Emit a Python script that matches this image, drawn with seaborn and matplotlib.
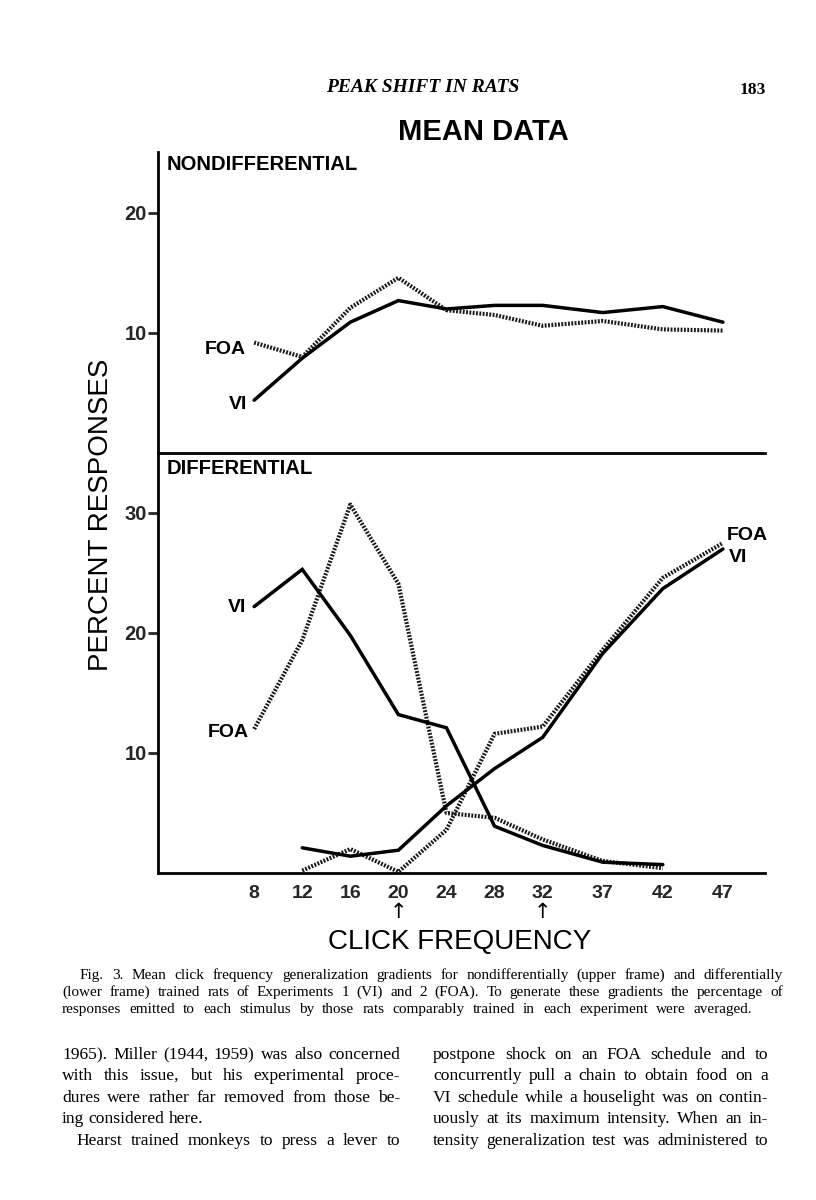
import matplotlib
matplotlib.use("Agg")
import matplotlib.pyplot as plt
import seaborn as sns
import pandas as pd
from matplotlib.transforms import blended_transform_factory

# ---------------- data ----------------
click_freq = [8, 12, 16, 20, 24, 28, 32, 37, 42, 47]
tick_labels = ["8", "12", "16", "20", "24", "28", "32", "37", "42", "47"]

# Nondifferential (upper frame)
nondiff_vi = [4.4, 7.9, 10.9, 12.7, 12.0, 12.3, 12.3, 11.7, 12.2, 10.9]
nondiff_foa = [9.2, 8.0, 12.1, 14.6, 11.9, 11.5, 10.6, 11.0, 10.3, 10.2]

# Differential (lower frame)
freq_low = [8, 12, 16, 20, 24, 28, 32, 37, 42]
freq_high = [12, 16, 20, 24, 28, 32, 37, 42, 47]
diff_vi_low = [22.2, 25.3, 19.8, 13.2, 12.1, 3.9, 2.3, 0.9, 0.7]
diff_vi_high = [2.1, 1.4, 1.9, 5.6, 8.7, 11.3, 18.3, 23.7, 27.0]
diff_foa_low = [12.0, 19.4, 30.7, 24.1, 5.0, 4.6, 2.8, 1.0, 0.4]
diff_foa_high = [0.2, 2.0, 0.1, 3.6, 11.6, 12.2, 18.6, 24.6, 27.5]

top_yticks = [10, 20]
bot_yticks = [10, 20, 30]

header = "PEAK SHIFT IN RATS"
page_no = "183"
title = "MEAN DATA"
caption_lines = [
    "Fig. 3. Mean click frequency generalization gradients for nondifferentially (upper frame) and differentially",
    "(lower frame) trained rats of Experiments 1 (VI) and 2 (FOA). To generate these gradients the percentage of",
    "responses emitted to each stimulus by those rats comparably trained in each experiment were averaged.",
]
left_col = [
    "1965). Miller (1944, 1959) was also concerned",
    "with this issue, but his experimental proce-",
    "dures were rather far removed from those be-",
    "ing considered here.",
    "Hearst trained monkeys to press a lever to",
]
right_col = [
    "postpone shock on an FOA schedule and to",
    "concurrently pull a chain to obtain food on a",
    "VI schedule while a houselight was on contin-",
    "uously at its maximum intensity. When an in-",
    "tensity generalization test was administered to",
]

# ---------------- style ----------------
sns.set_style("white")
plt.rcParams["font.family"] = ["Liberation Sans", "DejaVu Sans"]

W, H = 816, 1200
fig = plt.figure(figsize=(W / 100, H / 100), dpi=100)
fig.patch.set_facecolor("white")


def fx(px):
    return px / W


def fy(py):
    return 1 - py / H


AX_L, AX_R = 158, 765
ax_top = fig.add_axes([fx(AX_L), fy(453), fx(AX_R) - fx(AX_L), fy(152) - fy(453)])
ax_bot = fig.add_axes([fx(AX_L), fy(873), fx(AX_R) - fx(AX_L), fy(453) - fy(873)])

SOLID = dict(color="black", linewidth=2.5, solid_joinstyle="miter")
DOTTED = dict(color="#1a1a1a", linewidth=3.0, linestyle=(0, (0.45, 0.35)))


def draw(ax, xs, ys, style):
    df = pd.DataFrame({"freq": xs, "pct": ys})
    sns.lineplot(data=df, x="freq", y="pct", ax=ax, estimator=None, sort=False,
                 legend=False, clip_on=False, **style)


draw(ax_top, click_freq, nondiff_foa, DOTTED)
draw(ax_top, click_freq, nondiff_vi, SOLID)

draw(ax_bot, freq_low, diff_foa_low, DOTTED)
draw(ax_bot, freq_high, diff_foa_high, DOTTED)
draw(ax_bot, freq_low, diff_vi_low, SOLID)
draw(ax_bot, freq_high, diff_vi_high, SOLID)

for ax, ylim, yt in [(ax_top, 25.08, top_yticks), (ax_bot, 35.0, bot_yticks)]:
    ax.set_xlim(0, 50.5)
    ax.set_ylim(0, ylim)
    ax.set_facecolor("none")
    for s in ["top", "right"]:
        ax.spines[s].set_visible(False)
    for s in ["left", "bottom"]:
        ax.spines[s].set_linewidth(2.0)
        ax.spines[s].set_color("black")
    ax.set_yticks(yt)
    ax.set_yticklabels([str(v) for v in yt])
    ax.tick_params(axis="y", direction="out", length=7, width=2, pad=1,
                   labelsize=14.5, left=True)
    for lab in ax.get_yticklabels():
        lab.set_fontweight("bold")
    ax.set_xlabel("")
    ax.set_ylabel("")

ax_top.set_xticks([])
ax_bot.set_xticks(click_freq)
ax_bot.set_xticklabels(tick_labels)
ax_bot.tick_params(axis="x", length=0, pad=9, labelsize=14, bottom=True)
for lab in ax_bot.get_xticklabels():
    lab.set_fontweight("bold")

# frame labels
lab_kw = dict(fontsize=14, fontweight="bold", color="black")
fig.text(fx(167), fy(165), "NONDIFFERENTIAL", ha="left", va="center",
         fontsize=14.6, fontweight="bold", color="black")
fig.text(fx(167), fy(469), "DIFFERENTIAL", ha="left", va="center",
         fontsize=14.6, fontweight="bold", color="black")

# series labels
ax_top.text(7.3, 8.6, "FOA", ha="right", va="center", **lab_kw)
ax_top.text(7.4, 4.0, "VI", ha="right", va="center", **lab_kw)
ax_bot.text(7.3, 22.1, "VI", ha="right", va="center", **lab_kw)
ax_bot.text(7.6, 11.7, "FOA", ha="right", va="center", **lab_kw)
ax_bot.text(47.3, 28.1, "FOA", ha="left", va="center", **lab_kw)
ax_bot.text(47.5, 26.3, "VI", ha="left", va="center", **lab_kw)

# arrows under S+ / S- values
tr = blended_transform_factory(ax_bot.transData, fig.transFigure)
for v in (20, 32):
    ax_bot.text(v, fy(912), "\u2191", transform=tr, ha="center", va="center",
                fontsize=15, family="DejaVu Sans", color="black")

# axis titles
fig.text(fx(460), fy(942), "CLICK FREQUENCY", ha="center", va="center",
         fontsize=20, color="black")
fig.text(fx(101), fy(515), "PERCENT RESPONSES", ha="center", va="center",
         rotation=90, fontsize=20, color="black")
fig.text(fx(483), fy(132), title, ha="center", va="center",
         fontsize=21, fontweight="bold", color="black")

# page header
fig.text(fx(423), fy(88), header, ha="center", va="center", fontsize=14,
         family="Liberation Serif", style="italic", fontweight="bold", color="black")
fig.text(fx(766), fy(90), page_no, ha="right", va="center", fontsize=12.5,
         family="Liberation Serif", fontweight="bold", color="black")

# ---------------- justified text blocks ----------------
renderer = fig.canvas.get_renderer()


def place_line(line, x0, x1, ybase, size, justify=True, **kw):
    words = line.split(" ")
    texts = [fig.text(0, 0, w, fontsize=size, family="Liberation Serif",
                      va="baseline", ha="left", color="black", **kw) for w in words]
    widths = [t.get_window_extent(renderer).width for t in texts]
    min_gap = size * 100 / 72 * 0.22
    if justify and len(words) > 1:
        gap = max((x1 - x0 - sum(widths)) / (len(words) - 1), min_gap)
    else:
        gap = size * 100 / 72 * 0.25
    x = x0
    for t, w in zip(texts, widths):
        t.set_position((fx(x), fy(ybase)))
        x += w + gap


cap_base = [979, 996, 1013]
place_line(caption_lines[0], 80, 783, cap_base[0], 11)
place_line(caption_lines[1], 62, 783, cap_base[1], 11)
place_line(caption_lines[2], 62, 752, cap_base[2], 11)

body_base = [1059, 1080, 1102, 1123, 1145]
for i, line in enumerate(left_col):
    x0 = 62
    if i == 4:
        x0 = 76
    place_line(line, x0, 400, body_base[i], 12.6, justify=(i != 3))
for i, line in enumerate(right_col):
    place_line(line, 433, 768, body_base[i], 12.6)

fig.savefig("out.png", dpi=100, facecolor="white")
